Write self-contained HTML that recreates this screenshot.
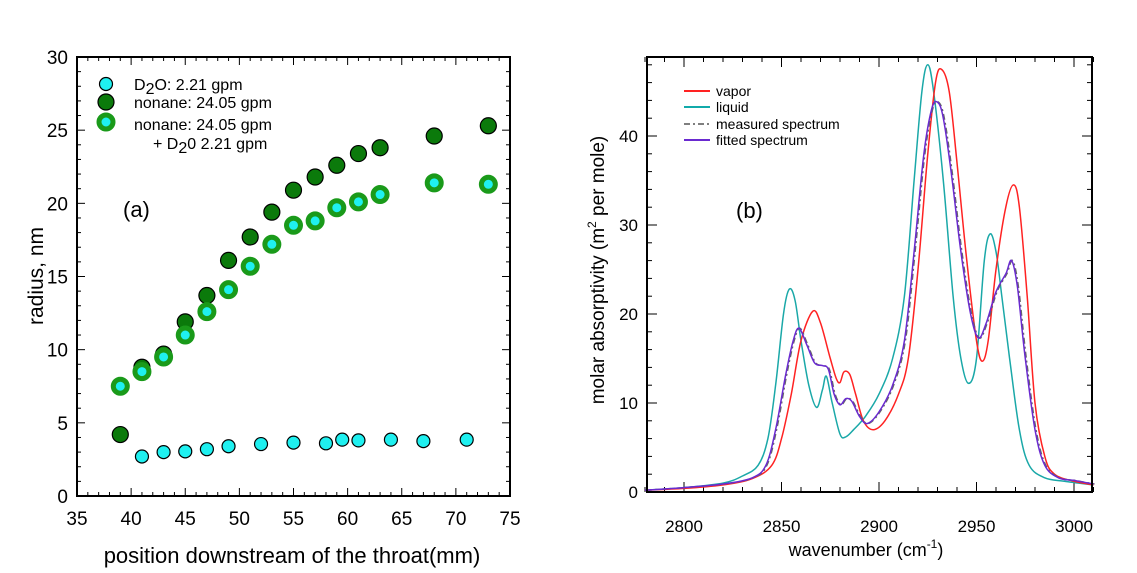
<!DOCTYPE html>
<html><head><meta charset="utf-8"><style>
html,body{margin:0;padding:0;background:#fff;}
svg{display:block;font-family:"Liberation Sans",Arial,sans-serif;}
</style></head><body>
<svg id="s" width="1137" height="573" viewBox="0 0 1137 573" xmlns="http://www.w3.org/2000/svg">
<rect width="1137" height="573" fill="#fff"/>
<g id="L"></g><g id="R"></g>
<text transform="translate(43,276) rotate(-90)" font-size="21" text-anchor="middle">radius, nm</text>
<text x="292" y="563" font-size="22" text-anchor="middle">position downstream of the throat(mm)</text>
<text x="123" y="217" font-size="22">(a)</text>
<text x="134" y="90" font-size="16">D<tspan dy="4">2</tspan><tspan dy="-4">O: 2.21 gpm</tspan></text>
<text x="134" y="108" font-size="16">nonane: 24.05 gpm</text>
<text x="134" y="130" font-size="16">nonane: 24.05 gpm</text>
<text x="153" y="149" font-size="16">+ D<tspan dy="4">2</tspan><tspan dy="-4">0  2.21 gpm</tspan></text>
<text x="866" y="556" font-size="18" text-anchor="middle">wavenumber (cm<tspan font-size="12" dy="-8">-1</tspan><tspan dy="8">)</tspan></text>
<text transform="translate(604,270) rotate(-90)" font-size="19" text-anchor="middle">molar absorptivity (m<tspan font-size="12" dy="-8">2</tspan><tspan dy="8"> per mole)</tspan></text>
<text x="736" y="218" font-size="22">(b)</text>
<line x1="684" y1="91" x2="710" y2="91" stroke="#f22" stroke-width="2"/>
<line x1="684" y1="107" x2="710" y2="107" stroke="#1aa" stroke-width="2"/>
<line x1="684" y1="124" x2="710" y2="124" stroke="#555" stroke-width="1.5" stroke-dasharray="6,3,2,3"/>
<line x1="684" y1="140" x2="710" y2="140" stroke="#6a2ad0" stroke-width="2"/>
<text x="716" y="96" font-size="14">vapor</text>
<text x="716" y="112" font-size="14">liquid</text>
<text x="716" y="129" font-size="14">measured spectrum</text>
<text x="716" y="145" font-size="14">fitted spectrum</text>
</svg>
<script>
var NS="http://www.w3.org/2000/svg";
function el(p,t,a){var e=document.createElementNS(NS,t);for(var k in a)e.setAttribute(k,a[k]);p.appendChild(e);return e;}
var L=document.getElementById('L'),R=document.getElementById('R'),S=document.getElementById('s');
var lx0=77,lx1=510,ly0=496,ly1=57;
function X(v){return lx0+(v-35)*(lx1-lx0)/40;}function Y(v){return ly0-(v)*(ly0-ly1)/30;}
el(L,'rect',{x:lx0,y:ly1,width:lx1-lx0,height:ly0-ly1,fill:'none',stroke:'#000','stroke-width':2});
for(var v=35;v<=75;v+=1){var x=X(v),len=(v%5==0)?8:4;el(L,'line',{x1:x,y1:ly0,x2:x,y2:ly0-len,stroke:'#000'});el(L,'line',{x1:x,y1:ly1,x2:x,y2:ly1+len,stroke:'#000'});
 if(v%5==0){var t=el(S,'text',{x:x,y:525,'font-size':19,'text-anchor':'middle'});t.textContent=v;}}
for(var v=0;v<=30;v+=1){var y=Y(v),len=(v%5==0)?8:4;el(L,'line',{x1:lx0,y1:y,x2:lx0+len,y2:y,stroke:'#000'});el(L,'line',{x1:lx1,y1:y,x2:lx1-len,y2:y,stroke:'#000'});
 if(v%5==0){var t=el(S,'text',{x:68,y:y+7,'font-size':19,'text-anchor':'end'});t.textContent=v;}}
var cy=[[41,2.7],[43,3.0],[45,3.05],[47,3.2],[49,3.4],[52,3.55],[55,3.65],[58,3.6],[59.5,3.85],[61,3.8],[64,3.85],[67,3.75],[71,3.85]];
var dg=[[39,4.2],[41,8.8],[43,9.7],[45,11.9],[47,13.7],[49,16.1],[51,17.7],[53,19.4],[55,20.9],[57,21.8],[59,22.6],[61,23.4],[63,23.8],[68,24.6],[73,25.3]];
var rg=[[39,7.5],[41,8.5],[43,9.5],[45,11],[47,12.6],[49,14.1],[51,15.7],[53,17.2],[55,18.5],[57,18.8],[59,19.7],[61,20.1],[63,20.6],[68,21.4],[73,21.3]];
dg.forEach(function(p){el(L,'circle',{cx:X(p[0]),cy:Y(p[1]),r:8,fill:'#0b7a0b',stroke:'#000','stroke-width':1.2});});
rg.forEach(function(p){el(L,'circle',{cx:X(p[0]),cy:Y(p[1]),r:7,fill:'#1ff0f0',stroke:'#1a9a1a','stroke-width':5});});
cy.forEach(function(p){el(L,'circle',{cx:X(p[0]),cy:Y(p[1]),r:6.5,fill:'#1ff0f0',stroke:'#000','stroke-width':1.2});});
el(L,'circle',{cx:106,cy:84,r:6.5,fill:'#1ff0f0',stroke:'#000','stroke-width':1.2});
el(L,'circle',{cx:106,cy:102,r:8,fill:'#0b7a0b',stroke:'#000','stroke-width':1.2});
el(L,'circle',{cx:106,cy:122,r:7,fill:'#1ff0f0',stroke:'#1a9a1a','stroke-width':5});
var rx0=647,rx1=1092,ry0=492,ry1=57;
function RX(w){return 684+(w-2800)*1.95;}function RY(v){return ry0-v*8.9;}
for(var w=2780;w<=3010;w+=10){var x=RX(w),len=(w%50==0)?10:5;el(R,'line',{x1:x,y1:ry0,x2:x,y2:ry0-len,stroke:'#000'});el(R,'line',{x1:x,y1:ry1,x2:x,y2:ry1+len,stroke:'#000'});
 if(w%50==0){var t=el(S,'text',{x:x,y:532,'font-size':17,'text-anchor':'middle'});t.textContent=w;}}
for(var v=0;v<=48;v+=2){var y=RY(v),len=(v%10==0)?10:5;el(R,'line',{x1:rx0,y1:y,x2:rx0+len,y2:y,stroke:'#000'});el(R,'line',{x1:rx1,y1:y,x2:rx1-len,y2:y,stroke:'#000'});
 if(v%10==0){var t=el(S,'text',{x:638,y:y+6,'font-size':17,'text-anchor':'end'});t.textContent=v;}}
function path(pts,dx,dy){var P=pts.map(function(p){return [RX(p[0])+(dx||0),RY(p[1])+(dy||0)];});var d='M'+P[0][0]+','+P[0][1];
 for(var i=0;i<P.length-1;i++){var p0=P[Math.max(0,i-1)],p1=P[i],p2=P[i+1],p3=P[Math.min(P.length-1,i+2)];
 var c1=[p1[0]+(p2[0]-p0[0])/6,p1[1]+(p2[1]-p0[1])/6],c2=[p2[0]-(p3[0]-p1[0])/6,p2[1]-(p3[1]-p1[1])/6];
 d+='C'+c1[0].toFixed(1)+','+c1[1].toFixed(1)+' '+c2[0].toFixed(1)+','+c2[1].toFixed(1)+' '+p2[0].toFixed(1)+','+p2[1].toFixed(1);}return d;}
var red=[[2780,0.2],[2800,0.4],[2820,0.8],[2835,1.5],[2845,3],[2850,6],[2855,11],[2860,17],[2866,20.3],[2870,19],[2875,15],[2878,12.8],[2880,12.3],[2882,13.5],[2885,13.2],[2888,11],[2892,8],[2897,7],[2903,8],[2910,11],[2915,15],[2920,25],[2925,38],[2929,46],[2932,47.5],[2936,45],[2940,37],[2945,26],[2950,17],[2953,14.7],[2956,17],[2960,25],[2965,32],[2969,34.5],[2972,32],[2976,22],[2980,10],[2985,4],[2990,2],[3000,1.2],[3010,0.8]];
var teal=[[2780,0.2],[2800,0.5],[2820,1],[2830,1.8],[2838,3],[2843,6],[2847,12],[2851,20],[2854,22.8],[2857,21.5],[2860,17],[2864,12],[2868,9.5],[2871,11.5],[2873,13],[2876,10],[2880,6.5],[2883,6.2],[2887,7],[2893,8.5],[2900,11],[2907,15],[2913,22],[2918,35],[2922,45],[2925,48],[2928,45],[2933,35],[2938,22],[2942,15],[2946,12.2],[2950,15],[2954,26],[2957,29],[2960,27],[2963,22],[2967,15],[2972,7],[2977,3],[2985,1.6],[2995,1.2],[3010,0.8]];
var pur=[[2780,0.2],[2800,0.5],[2820,0.9],[2835,1.6],[2842,3],[2847,7],[2852,13],[2856,17],[2859,18.4],[2863,16.5],[2867,14.5],[2871,14.2],[2874,13.8],[2877,11],[2880,9.8],[2883,10.5],[2886,10.2],[2890,8.5],[2894,7.7],[2900,9],[2907,12],[2913,17],[2918,27],[2923,38],[2927,43],[2930,43.8],[2933,42],[2937,36],[2942,27],[2947,20],[2951,17.3],[2955,19],[2960,22.5],[2965,24.5],[2968,26],[2971,23],[2975,15],[2980,7],[2985,3],[2992,1.6],[3000,1.3],[3010,0.9]];
el(R,'path',{d:path(teal),fill:'none',stroke:'#1aa8a8','stroke-width':1.5});
el(R,'path',{d:path(red),fill:'none',stroke:'#f22','stroke-width':1.5});
el(R,'path',{d:path(pur,1,0),fill:'none',stroke:'#666','stroke-width':1.5,'stroke-dasharray':'6,3,2,3'});
el(R,'path',{d:path(pur),fill:'none',stroke:'#6a2ad0','stroke-width':1.5});
el(R,'rect',{x:rx0,y:ry1,width:rx1-rx0,height:ry0-ry1,fill:'none',stroke:'#000','stroke-width':2});
</script>
</body></html>
